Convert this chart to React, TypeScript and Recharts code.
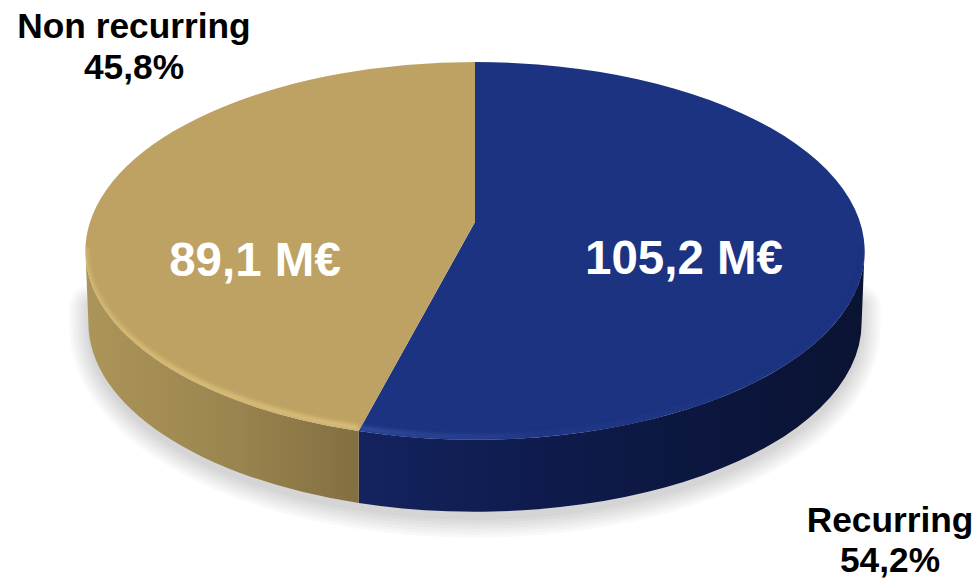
import React from "react";
import { PieChart, Pie } from "recharts";

const categories = ["Recurring", "Non recurring"];
const amounts = [105.2, 89.1];
const amountLabels = ["105,2 M€", "89,1 M€"];
const shareLabels = ["54,2%", "45,8%"];
const topColors = ["#1b3380", "#bda263"];

const chartData = categories.map((name, i) => ({ name, value: amounts[i] }));

const FONT = "'Liberation Sans', Arial, sans-serif";
// perspective of the disc: near edge larger than the far edge
const TILT = 0.479;
const K = 0.153;
const DEPTH = 72;
const BOTTOM_RX_LESS = 3;
// soft shadow built from stacked see-through strokes
const SHADOW_WIDTHS = [44, 38, 32, 26, 20, 14, 8];

const project = (p: any, angle: number) => {
  const a = (angle * Math.PI) / 180;
  const u = Math.cos(a);
  const v = -Math.sin(a);
  const w = 1 - K * v;
  return {
    x: p.cx + (p.outerRadius * u) / w,
    y: p.cy + (p.outerRadius * TILT * v) / w,
  };
};

const ellipseOf = (p: any) => {
  const top = project(p, 90);
  const bottom = project(p, -90);
  return {
    rx: p.outerRadius / Math.sqrt(1 - K * K),
    ry: (bottom.y - top.y) / 2,
    cy: (bottom.y + top.y) / 2,
  };
};

const facePath = (p: any) => {
  const e = ellipseOf(p);
  const a = project(p, p.startAngle);
  const b = project(p, p.endAngle);
  const large = Math.abs(p.endAngle - p.startAngle) > 180 ? 1 : 0;
  return `M${p.cx},${p.cy}L${a.x},${a.y}A${e.rx},${e.ry} 0 ${large} 1 ${b.x},${b.y}Z`;
};

// the part of a slice's rim on the front half of the disc
const rimEnds = (p: any) => {
  const e = ellipseOf(p);
  const a = p.startAngle > 0 ? { x: p.cx + e.rx, y: e.cy } : project(p, p.startAngle);
  const b = p.endAngle < -180 ? { x: p.cx - e.rx, y: e.cy } : project(p, p.endAngle);
  return { e, a, b };
};

const lower = (p: any, e: any, pt: { x: number; y: number }) => {
  const rxb = e.rx - BOTTOM_RX_LESS;
  const cyb = e.cy + DEPTH;
  const dx = Math.max(Math.min((pt.x - p.cx) / rxb, 1), -1);
  const x = Math.abs(pt.x - p.cx) >= e.rx - 0.01 ? p.cx + Math.sign(pt.x - p.cx) * rxb : pt.x;
  return { x, y: cyb + e.ry * Math.sqrt(1 - dx * dx) };
};

const wallPath = (p: any) => {
  const { e, a, b } = rimEnds(p);
  const a2 = lower(p, e, a);
  const b2 = lower(p, e, b);
  const rxb = e.rx - BOTTOM_RX_LESS;
  return `M${a.x},${a.y}A${e.rx},${e.ry} 0 0 1 ${b.x},${b.y}L${b2.x},${b2.y}A${rxb},${e.ry} 0 0 0 ${a2.x},${a2.y}Z`;
};

// whole lower outline of the disc, used for the one shadow under both slices
const shadowPath = (p: any) => {
  const e = ellipseOf(p);
  const rxb = e.rx - BOTTOM_RX_LESS - 3;
  const cyb = e.cy + DEPTH;
  return `M${p.cx + rxb},${cyb - 20}L${p.cx + rxb},${cyb}A${rxb},${e.ry} 0 0 1 ${p.cx - rxb},${cyb}L${p.cx - rxb},${cyb - 20}`;
};

const rimPath = (p: any) => {
  const { e, a, b } = rimEnds(p);
  return `M${a.x},${a.y - 3}A${e.rx - 1},${e.ry - 3} 0 0 1 ${b.x},${b.y - 3}`;
};

const TopSlice = (p: any) => (
  <g>
    {p.index === 0 &&
      SHADOW_WIDTHS.map((w) => (
        <path
          key={w}
          d={shadowPath(p)}
          transform="translate(0,4)"
          fill="none"
          stroke="#000000"
          strokeOpacity={0.022}
          strokeWidth={w}
          strokeLinecap="round"
        />
      ))}
    <path d={wallPath(p)} fill={`url(#wall${p.index})`} />
    <clipPath id={`faceClip${p.index}`}>
      <path d={facePath(p)} />
    </clipPath>
    <path d={facePath(p)} fill={topColors[p.index]} />
    <g clipPath={`url(#faceClip${p.index})`}>
      <path d={rimPath(p)} fill="none" stroke={`url(#rim${p.index})`} strokeWidth={4} filter="url(#softRim)" />
    </g>
  </g>
);

const valueSpots = [
  { x: 684, y: 274 },
  { x: 255, y: 276 },
];
const nameSpots = [
  { x: 890, y: 532, y2: 572 },
  { x: 134, y: 38, y2: 79 },
];

const renderLabel = (p: any) => {
  const i = p.index;
  return (
    <g>
      <text x={valueSpots[i].x} y={valueSpots[i].y} textAnchor="middle" fill="#ffffff" fontFamily={FONT} fontWeight={700} fontSize={47.5}>
        {amountLabels[i]}
      </text>
      <text x={nameSpots[i].x} y={nameSpots[i].y} textAnchor="middle" fill="#000000" fontFamily={FONT} fontWeight={700} fontSize={35.3}>
        {categories[i]}
      </text>
      <text x={nameSpots[i].x} y={nameSpots[i].y2} textAnchor="middle" fill="#000000" fontFamily={FONT} fontWeight={700} fontSize={35.3}>
        {shareLabels[i]}
      </text>
    </g>
  );
};

export default function App() {
  return (
    <div style={{ position: "absolute", left: 0, top: 0, width: 975, height: 579 }}>
      <PieChart width={975} height={579} margin={{ top: 0, right: 0, bottom: 0, left: 0 }}>
        <defs>
          <filter id="softRim" filterUnits="userSpaceOnUse" x="0" y="150" width="975" height="429">
            <feGaussianBlur stdDeviation="2" />
          </filter>
          <linearGradient id="wall0" gradientUnits="userSpaceOnUse" x1="362" y1="0" x2="865" y2="0">
            <stop offset="0" stopColor="#14235f" />
            <stop offset="0.4" stopColor="#0e1a4a" />
            <stop offset="1" stopColor="#0a1332" />
          </linearGradient>
          <linearGradient id="wall1" gradientUnits="userSpaceOnUse" x1="85" y1="0" x2="362" y2="0">
            <stop offset="0" stopColor="#ab9558" />
            <stop offset="0.5" stopColor="#9c8650" />
            <stop offset="1" stopColor="#826e40" />
          </linearGradient>
          <linearGradient id="rim0" gradientUnits="userSpaceOnUse" x1="362" y1="0" x2="865" y2="0">
            <stop offset="0" stopColor="#3b55a8" />
            <stop offset="0.35" stopColor="#24398a" />
            <stop offset="1" stopColor="#1b3380" />
          </linearGradient>
          <linearGradient id="rim1" gradientUnits="userSpaceOnUse" x1="85" y1="0" x2="362" y2="0">
            <stop offset="0" stopColor="#dcc078" />
            <stop offset="1" stopColor="#e6cb84" />
          </linearGradient>
        </defs>
        <Pie
          data={chartData}
          dataKey="value"
          nameKey="name"
          cx={475}
          cy={222}
          outerRadius={385}
          startAngle={90}
          endAngle={-270}
          stroke="none"
          isAnimationActive={false}
          shape={TopSlice}
          label={renderLabel}
          labelLine={false}
        />
      </PieChart>
    </div>
  );
}
